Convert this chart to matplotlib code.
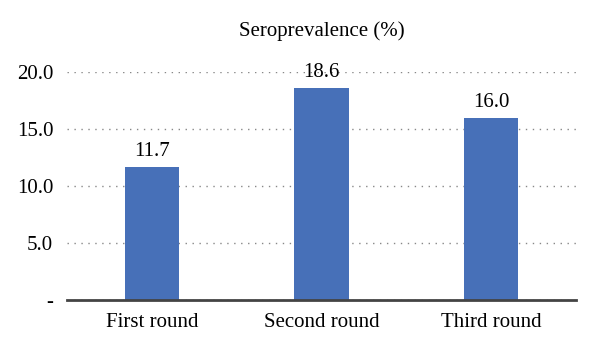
import matplotlib.pyplot as plt

rounds = ["First round", "Second round", "Third round"]
seroprevalence = [11.7, 18.6, 16.0]
yticks = [0, 5, 10, 15, 20]
ytick_labels = ["-", "5.0", "10.0", "15.0", "20.0"]

plt.rcParams['font.family'] = ['Liberation Serif', 'DejaVu Serif']
fs = 15

fig = plt.figure(figsize=(6, 3.49), dpi=100)
ax = fig.add_axes([0.112, 0.1404, 0.848, 0.6533])

x = range(len(rounds))
bars = ax.bar(x, seroprevalence, width=0.32, color="#4770b8", zorder=3)
for b, v in zip(bars, seroprevalence):
    ax.annotate(f"{v:.1f}", (b.get_x() + b.get_width() / 2, v),
                xytext=(0, 4), textcoords="offset points",
                ha="center", va="bottom", fontsize=fs)

ax.set_xlim(-0.5, 2.5)
ax.set_ylim(0, 20)
ax.set_yticks(yticks)
ax.set_yticklabels(ytick_labels)
ax.set_xticks(list(x))
ax.set_xticklabels(rounds)
ax.tick_params(axis="both", length=0, labelsize=fs)
ax.tick_params(axis="y", pad=10)
ax.tick_params(axis="x", pad=9)

ax.yaxis.grid(True, linestyle=(0, (1, 4)), color="#888888", linewidth=1)
for s in ["top", "right", "left"]:
    ax.spines[s].set_visible(False)
ax.spines["bottom"].set_color("#444444")
ax.spines["bottom"].set_linewidth(2)
ax.spines["bottom"].set_zorder(4)

fig.text(0.537, 0.912, "Seroprevalence (%)", ha="center", va="center", fontsize=fs)

fig.savefig("out.png", dpi=100)
